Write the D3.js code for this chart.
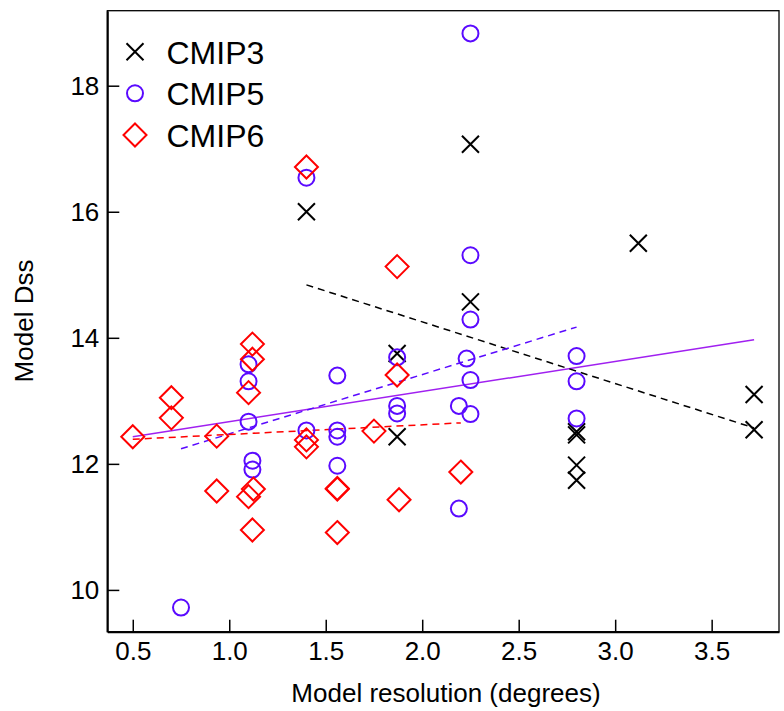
<!DOCTYPE html>
<html>
<head>
<meta charset="utf-8">
<script src="https://cdn.jsdelivr.net/npm/d3@7"></script>
<style>
  body { margin: 0; background: #fff; }
  svg { font-family: "Liberation Sans", Arial, sans-serif; }
</style>
</head>
<body>
<div id="chart"></div>
<script>
var width = 784;
var height = 711;

// plot box
var boxL = 107.3, boxT = 10.7, boxR = 779, boxB = 631.7;

// CMIP3 models (resolution, Dss)
var cmip3X = [1.40, 2.25, 3.12, 2.25, 1.87, 1.87, 2.80, 2.80, 2.80, 2.80, 3.72, 3.72];
var cmip3Y = [16.00, 17.07, 15.50, 14.57, 13.75, 12.43, 12.51, 12.46, 11.98, 11.74, 13.10, 12.54];

// CMIP5 models
var cmip5X = [2.25, 1.40, 2.25, 2.25, 1.87, 2.23, 2.25, 1.87, 1.87, 2.19, 2.25, 2.80, 2.80, 2.80, 2.19,
              1.10, 1.10, 1.10, 1.12, 1.12, 1.56, 1.40, 1.56, 1.56, 1.56, 0.75];
var cmip5Y = [18.83, 16.54, 15.31, 14.29, 13.69, 13.67, 13.33, 12.92, 12.80, 12.92, 12.79, 13.71, 13.31, 12.72, 11.29,
              13.58, 13.31, 12.67, 12.05, 11.91, 13.40, 12.53, 12.53, 12.43, 11.97, 9.72];

// CMIP6 models
var cmip6X = [1.40, 1.87, 0.50, 0.70, 0.70, 0.935, 0.935, 1.12, 1.12, 1.10, 1.125, 1.10, 1.12,
              1.40, 1.40, 1.56, 1.56, 1.56, 1.87, 1.75, 2.20, 1.88];
var cmip6Y = [16.71, 15.13, 12.43, 13.05, 12.73, 12.44, 11.57, 13.90, 13.66, 13.13, 11.60, 11.48, 10.95,
              12.38, 12.27, 11.61, 11.60, 10.91, 13.41, 12.52, 11.87, 11.43];

// regression lines (end points)
var fit3X = [1.40, 3.72], fit3Y = [14.84, 12.57];
var fit5X = [0.75, 2.80], fit5Y = [12.24, 14.17];
var fit6X = [0.50, 2.20], fit6Y = [12.39, 12.65];
var fitAllX = [0.50, 3.72], fitAllY = [12.43, 13.97];

var xTicks = [0.5, 1.0, 1.5, 2.0, 2.5, 3.0, 3.5];
var yTicks = [10, 12, 14, 16, 18];
var legendNames = ['CMIP3', 'CMIP5', 'CMIP6'];

var c5 = '#5a0aff';
var cAll = '#a020f0';
var c6 = '#ff0000';

var svg = d3.select('#chart').append('svg').attr('width', width).attr('height', height);

var x = d3.scaleLinear().domain([0.368, 3.849]).range([boxL, boxR]);
var y = d3.scaleLinear().domain([9.337, 19.19]).range([boxB, boxT]);

// box
svg.append('rect').attr('x', boxL).attr('y', boxT).attr('width', boxR - boxL).attr('height', boxB - boxT)
  .attr('fill', 'none').attr('stroke', '#000').attr('stroke-width', 1.3);

var xAxis = svg.append('g').attr('transform', 'translate(0,' + boxB + ')')
  .call(d3.axisBottom(x).tickValues(xTicks).tickFormat(d3.format('.1f')).tickSizeInner(-12).tickSizeOuter(0).tickPadding(10));
var yAxis = svg.append('g').attr('transform', 'translate(' + boxL + ',0)')
  .call(d3.axisLeft(y).tickValues(yTicks).tickFormat(d3.format('d')).tickSizeInner(-12).tickSizeOuter(0).tickPadding(8));

[xAxis, yAxis].forEach(function(a) {
  a.attr('font-size', 26).attr('font-family', '"Liberation Sans", Arial, sans-serif');
  a.select('.domain').attr('stroke-width', 2);
  a.selectAll('.tick line').attr('stroke-width', 1.5);
  a.selectAll('text').attr('fill', '#000');
});

// titles
svg.append('text').attr('x', 446).attr('y', 702).attr('text-anchor', 'middle')
  .attr('font-size', 26).text('Model resolution (degrees)');
svg.append('text').attr('transform', 'translate(33,321) rotate(-90)').attr('text-anchor', 'middle')
  .attr('font-size', 26).text('Model Dss');

// fit lines
function fitLine(xs, ys, color, dash) {
  var pts = xs.map(function(d, i) { return [x(d), y(ys[i])]; });
  svg.append('path').attr('d', d3.line()(pts)).attr('fill', 'none')
    .attr('stroke', color).attr('stroke-width', 1.5)
    .attr('stroke-dasharray', dash);
}
fitLine(fitAllX, fitAllY, cAll, null);
fitLine(fit3X, fit3Y, '#000', '7,5');
fitLine(fit5X, fit5Y, c5, '7,5');
fitLine(fit6X, fit6Y, c6, '7,5');

// markers
function crossPath(cx, cy) {
  var s = 8.5;
  return 'M' + (cx - s) + ',' + (cy - s) + 'L' + (cx + s) + ',' + (cy + s) +
         'M' + (cx - s) + ',' + (cy + s) + 'L' + (cx + s) + ',' + (cy - s);
}
function diamondPath(cx, cy) {
  var s = 11.5;
  return 'M' + cx + ',' + (cy - s) + 'L' + (cx + s) + ',' + cy + 'L' + cx + ',' + (cy + s) + 'L' + (cx - s) + ',' + cy + 'Z';
}

svg.append('g').selectAll('path').data(cmip3X).enter().append('path')
  .attr('d', function(d, i) { return crossPath(x(d), y(cmip3Y[i])); })
  .attr('stroke', '#000').attr('stroke-width', 2).attr('fill', 'none');

svg.append('g').selectAll('circle').data(cmip5X).enter().append('circle')
  .attr('cx', function(d) { return x(d); })
  .attr('cy', function(d, i) { return y(cmip5Y[i]); })
  .attr('r', 8).attr('stroke', c5).attr('stroke-width', 2).attr('fill', 'none');

svg.append('g').selectAll('path').data(cmip6X).enter().append('path')
  .attr('d', function(d, i) { return diamondPath(x(d), y(cmip6Y[i])); })
  .attr('stroke', c6).attr('stroke-width', 2).attr('fill', 'none');

// legend
var lx = 135, ly = [51.7, 93.3, 135];
svg.append('path').attr('d', crossPath(lx, ly[0])).attr('stroke', '#000').attr('stroke-width', 2);
svg.append('circle').attr('cx', lx).attr('cy', ly[1]).attr('r', 8).attr('stroke', c5).attr('stroke-width', 2).attr('fill', 'none');
svg.append('path').attr('d', diamondPath(lx, ly[2])).attr('stroke', c6).attr('stroke-width', 2).attr('fill', 'none');
legendNames.forEach(function(n, i) {
  svg.append('text').attr('x', 166.5).attr('y', ly[i] + 12).attr('font-size', 32).text(n);
});
</script>
</body>
</html>
